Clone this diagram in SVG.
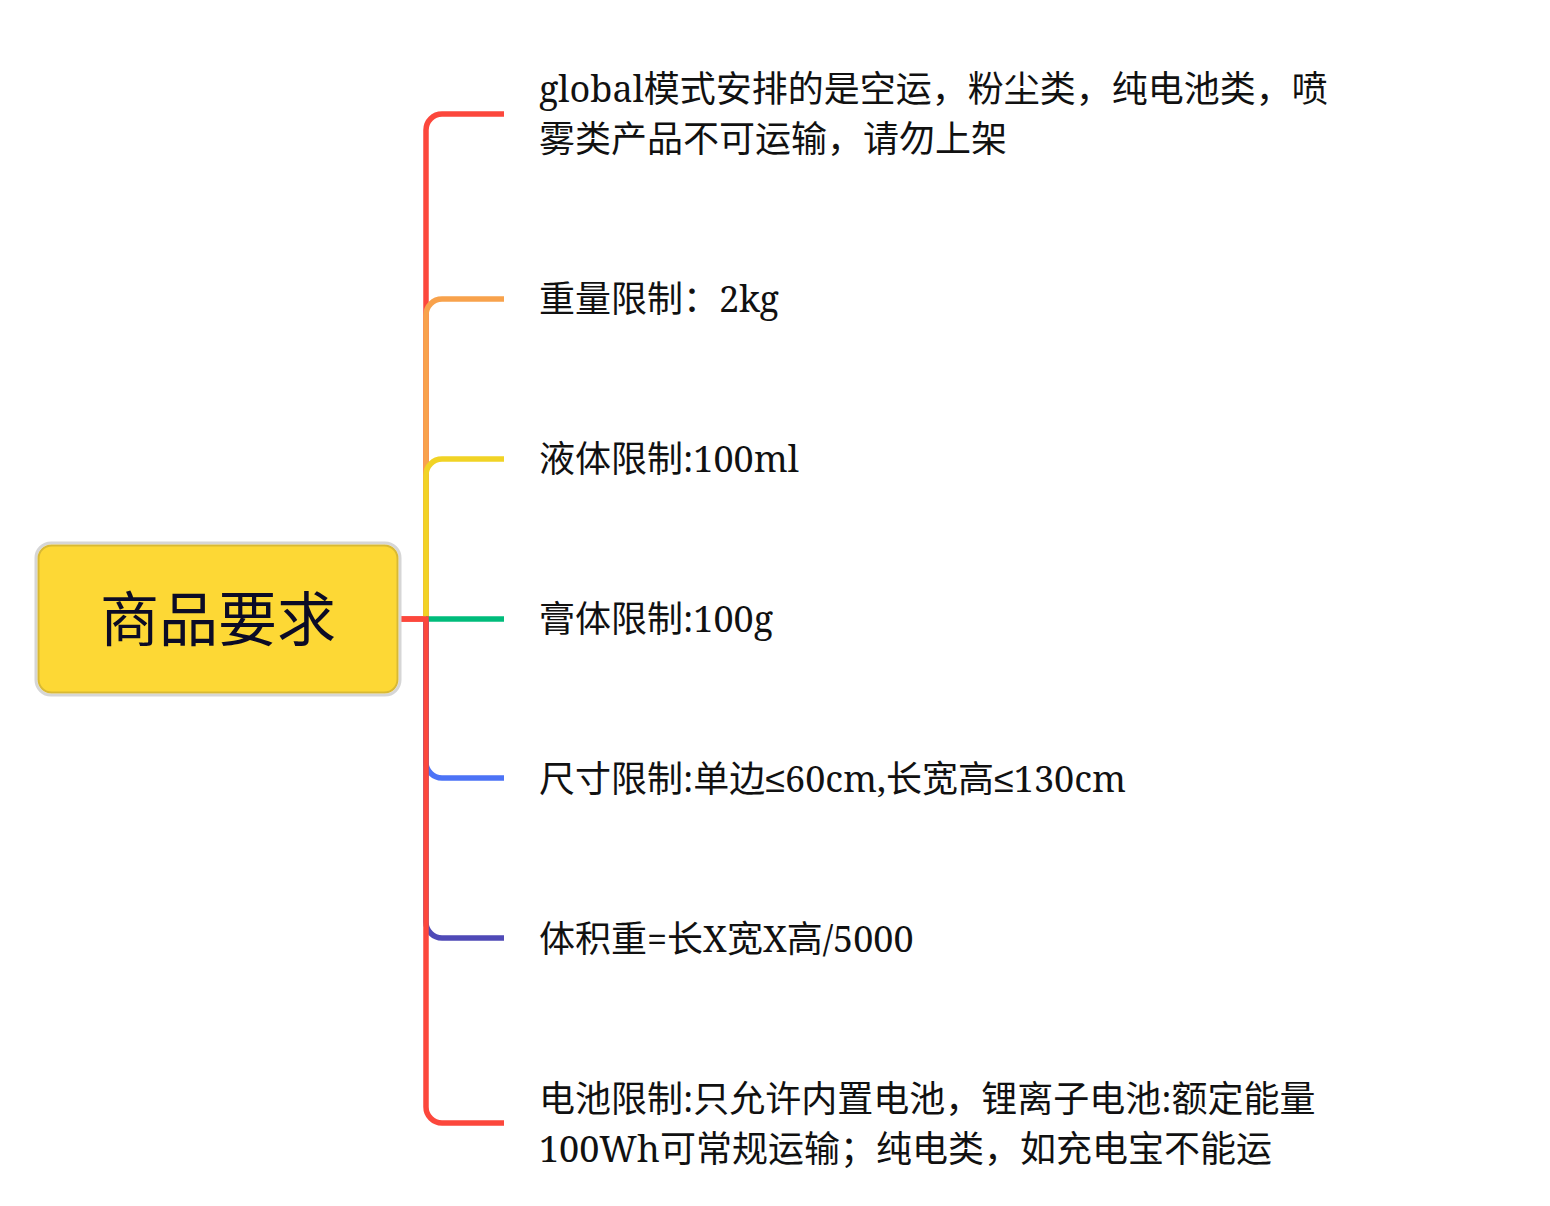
<svg xmlns="http://www.w3.org/2000/svg" width="1550" height="1206" viewBox="0 0 1550 1206">
<style>
.lbl{font-family:"Noto Serif","Liberation Serif","Noto Sans CJK SC",serif;font-size:36px;fill:#111111;}
.sym{font-family:"Liberation Sans","Noto Sans CJK SC",sans-serif;}
.root{font-family:"Noto Sans CJK SC","Noto Sans",sans-serif;font-size:59px;fill:#0b0b26;}
.c{fill:none;stroke-width:5.5;stroke-linecap:butt;}
</style>
<rect width="1550" height="1206" fill="#ffffff"/>
<g id="connectors">
<path class="c" stroke="#FC473C" d="M400 619 H426 V130 A16 16 0 0 1 442 114 H504"/>
<path class="c" stroke="#F8A24C" d="M426 619 V315 A16 16 0 0 1 442 299 H504"/>
<path class="c" stroke="#F1D325" d="M426 619 V475 A16 16 0 0 1 442 459 H504"/>
<path class="c" stroke="#00BC7B" d="M426 619 H504"/>
<path class="c" stroke="#4C73F6" d="M426 619 V762 A16 16 0 0 0 442 778 H504"/>
<path class="c" stroke="#4F4AB7" d="M426 619 V922 A16 16 0 0 0 442 938 H504"/>
<path class="c" stroke="#FC473C" d="M400 619 H426 V1107 A16 16 0 0 0 442 1123 H504"/>
</g>
<g id="root">
<rect x="36" y="543" width="364" height="152" rx="15" fill="none" stroke="#d6d6d6" stroke-width="3"/>
<rect x="38.5" y="545.5" width="359" height="147" rx="13" fill="#FDD835" stroke="#D9B934" stroke-width="2"/>
<text class="root" x="218" y="641" text-anchor="middle">商品要求</text>
</g>
<g id="n1"><text class="lbl" x="539" y="102">global模式安排的是空运，粉尘类，纯电池类，喷</text><text class="lbl" x="539" y="152">雾类产品不可运输，请勿上架</text></g>
<g id="n2"><text class="lbl" x="539" y="312">重量限制：2kg</text></g>
<g id="n3"><text class="lbl" x="539" y="472">液体限制:100ml</text></g>
<g id="n4"><text class="lbl" x="539" y="632">膏体限制:100g</text></g>
<g id="n5"><text class="lbl" x="539" y="792">尺寸限制:单边<tspan class="sym">≤</tspan>60cm,长宽高<tspan class="sym">≤</tspan>130cm</text></g>
<g id="n6"><text class="lbl" x="539" y="952">体积重=长X宽X高/5000</text></g>
<g id="n7"><text class="lbl" x="539" y="1112">电池限制:只允许内置电池，锂离子电池:额定能量</text><text class="lbl" x="539" y="1162">100Wh可常规运输；纯电类，如充电宝不能运</text></g>
</svg>
